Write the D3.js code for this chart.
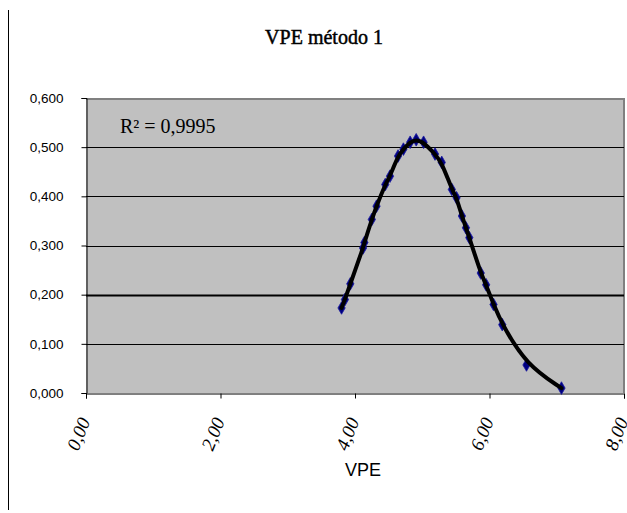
<!DOCTYPE html>
<html>
<head>
<meta charset="utf-8">
<script src="https://cdn.jsdelivr.net/npm/d3@7"></script>
<style>
  html, body { margin: 0; padding: 0; background: #ffffff; }
  svg { display: block; }
</style>
</head>
<body>
<svg id="chart" width="627" height="513"></svg>
<script>
// ---- data ----
const vpe = [3.80, 3.85, 3.93, 4.12, 4.14, 4.25, 4.32, 4.45, 4.52, 4.64, 4.72, 4.82, 4.91,
             5.02, 5.19, 5.29, 5.44, 5.51, 5.59, 5.65, 5.70, 5.87, 5.95, 6.06, 6.19, 6.55, 7.07];
const yVals = [0.173, 0.190, 0.222, 0.295, 0.306, 0.353, 0.380, 0.424, 0.441, 0.482, 0.496, 0.510, 0.515,
               0.510, 0.486, 0.469, 0.414, 0.397, 0.360, 0.336, 0.316, 0.244, 0.220, 0.180, 0.139, 0.057, 0.010];
const xTicks = [0, 2, 4, 6, 8];
const yTicks = [0, 0.1, 0.2, 0.3, 0.4, 0.5, 0.6];
const titleText = "VPE método 1";
const xLabel = "VPE";
const r2Text = "R² = 0,9995";

const svg = d3.select("#chart");
const L = 86, R = 624, T = 98, B = 393;
const x = d3.scaleLinear().domain([0, 8]).range([L, R]);
const y = d3.scaleLinear().domain([0, 0.6]).range([B, T]);
const fmtY = v => d3.format(".3f")(v).replace(".", ",");
const fmtX = v => d3.format(".2f")(v).replace(".", ",");

// outer left frame line
svg.append("line").attr("x1", 8.5).attr("x2", 8.5).attr("y1", 10).attr("y2", 510)
  .attr("stroke", "#000").attr("stroke-width", 1);

// plot background
svg.append("rect").attr("x", L).attr("y", T).attr("width", R - L).attr("height", B - T)
  .attr("fill", "#c0c0c0");
// top and right border (gray)
svg.append("path").attr("d", `M${L},${T + 1}H${R}V${B}`).attr("fill", "none")
  .attr("stroke", "#808080").attr("stroke-width", 2);

// gridlines
svg.append("g").selectAll("line").data(yTicks.filter(v => v > 0 && v < 0.6)).join("line")
  .attr("x1", L).attr("x2", R)
  .attr("y1", d => Math.round(y(d)) + 0.5).attr("y2", d => Math.round(y(d)) + 0.5)
  .attr("stroke", "#000").attr("stroke-width", d => Math.abs(d - 0.2) < 1e-9 ? 2 : 1);

// y axis
const yAxis = d3.axisLeft(y).tickValues(yTicks).tickFormat(fmtY).tickSize(5).tickPadding(18);
const gy = svg.append("g").attr("transform", `translate(${L + 0.5},0)`).call(yAxis);
gy.select(".domain").attr("stroke", "#000");
gy.selectAll("text").attr("font-family", "Liberation Sans, Arial, sans-serif")
  .attr("font-size", 13.5).attr("fill", "#000");

// x axis
const xAxis = d3.axisBottom(x).tickValues(xTicks).tickFormat(fmtX).tickSize(5);
const gx = svg.append("g").attr("transform", `translate(0,${B + 0.5})`).call(xAxis);
gx.select(".domain").attr("stroke", "#000");
gx.selectAll("text")
  .attr("font-family", "Liberation Serif, Times New Roman, serif")
  .attr("font-style", "italic")
  .attr("font-size", 19)
  .attr("fill", "#000")
  .attr("text-anchor", "end")
  .attr("dy", "0.35em")
  .attr("transform", "translate(-2,25) rotate(-68)")
  .attr("x", 0).attr("y", 0);

// markers
const pts = vpe.map((v, i) => [v, yVals[i]]);
const sym = d3.symbol().type(d3.symbolDiamond).size(46);
svg.append("g").selectAll("path").data(pts).join("path")
  .attr("d", sym)
  .attr("transform", d => `translate(${x(d[0])},${y(d[1])})`)
  .attr("fill", "#000080").attr("stroke", "#1a1aa0").attr("stroke-width", 0.8);

// smooth trend line through the points
svg.append("path").datum(pts)
  .attr("d", d3.line().x(d => x(d[0])).y(d => y(d[1])).curve(d3.curveBasis))
  .attr("fill", "none").attr("stroke", "#000").attr("stroke-width", 4)
  .attr("stroke-linejoin", "round").attr("stroke-linecap", "round");

// title
svg.append("text").attr("x", 324).attr("y", 44).attr("text-anchor", "middle")
  .attr("font-family", "Liberation Serif, Times New Roman, serif")
  .attr("font-size", 20).attr("stroke", "#000").attr("stroke-width", 0.45)
  .text(titleText);

// R2 label
svg.append("text").attr("x", 120).attr("y", 133)
  .attr("font-family", "Liberation Serif, Times New Roman, serif")
  .attr("font-size", 20).text(r2Text);

// x axis label
svg.append("text").attr("x", 363).attr("y", 476).attr("text-anchor", "middle")
  .attr("font-family", "Liberation Sans, Arial, sans-serif")
  .attr("font-size", 18).text(xLabel);
</script>
</body>
</html>
